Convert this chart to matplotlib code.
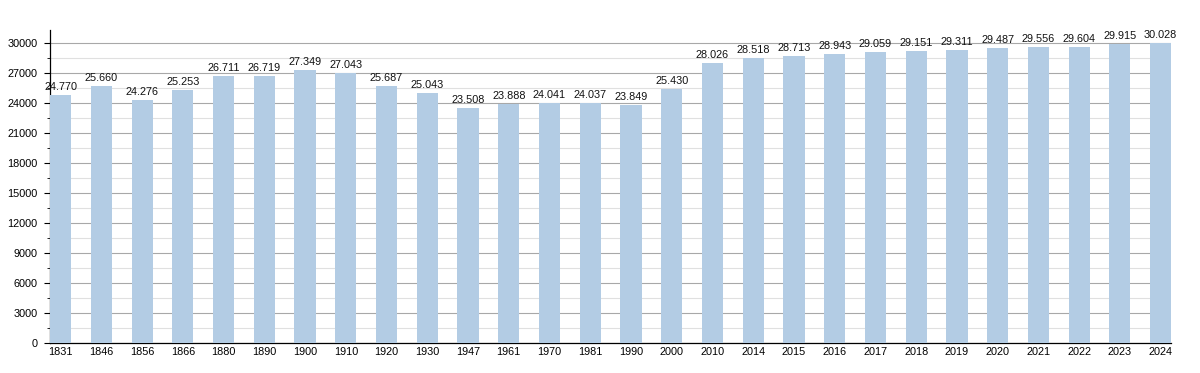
import numpy as np
import matplotlib.pyplot as plt
from matplotlib.ticker import MultipleLocator

# population per census year
years = ["1831", "1846", "1856", "1866", "1880", "1890", "1900", "1910", "1920", "1930",
         "1947", "1961", "1970", "1981", "1990", "2000", "2010", "2014", "2015", "2016",
         "2017", "2018", "2019", "2020", "2021", "2022", "2023", "2024"]
population = [24770, 25660, 24276, 25253, 26711, 26719, 27349, 27043, 25687, 25043,
              23508, 23888, 24041, 24037, 23849, 25430, 28026, 28518, 28713, 28943,
              29059, 29151, 29311, 29487, 29556, 29604, 29915, 30028]

plt.rcParams['font.family'] = ['Liberation Sans', 'DejaVu Sans']

fig = plt.figure(figsize=(12, 3.73), dpi=100)
ax = fig.add_axes([0.0417, 0.0804, 0.9343, 0.8392])

x = np.arange(len(years))
bar_w = 0.52
ax.bar(x, population, width=bar_w, color='#b3cce4', zorder=3)

for xi, v in zip(x, population):
    label = f"{v:,}".replace(",", ".")
    ax.text(xi, v + 300, label, ha='center', va='bottom', fontsize=7.8, color='#111111', zorder=4)

ax.set_xlim(-bar_w / 2, len(years) - 1 + bar_w / 2)
ax.set_ylim(0, 31300)
ax.set_xticks(x)
ax.set_xticklabels(years)
ax.yaxis.set_major_locator(MultipleLocator(3000))
ax.yaxis.set_minor_locator(MultipleLocator(1500))
ax.grid(axis='y', which='major', color='#a8a8a8', linewidth=0.8, zorder=0)
ax.grid(axis='y', which='minor', color='#e0e0e0', linewidth=0.8, zorder=0)

ax.tick_params(axis='x', length=0, labelsize=7.8, pad=3)
ax.tick_params(axis='y', which='major', length=4, labelsize=7.8, pad=5)
ax.tick_params(axis='y', which='minor', length=2)
ax.spines['top'].set_visible(False)
ax.spines['right'].set_visible(False)
ax.spines['left'].set_linewidth(0.9)
ax.spines['bottom'].set_linewidth(0.9)

fig.savefig("out.png", dpi=100)
